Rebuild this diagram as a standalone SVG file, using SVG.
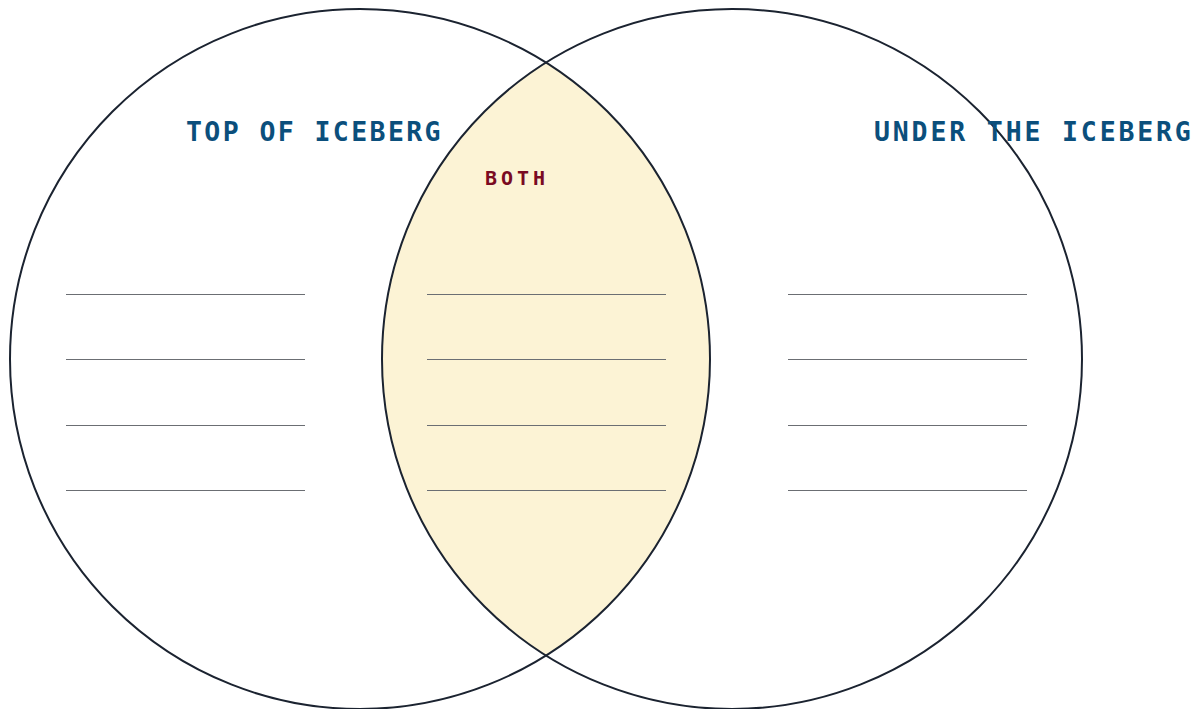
<svg xmlns="http://www.w3.org/2000/svg" width="1197" height="709" viewBox="0 0 1197 709">
<style>
.circ{fill:none;stroke:#1b2330;stroke-width:2}
.ln{stroke:#6b6e73;stroke-width:1}
.title{font-family:"DejaVu Sans Mono","Liberation Mono",monospace;font-weight:bold;font-size:26.5px;letter-spacing:2.4px;fill:#0b4f7c}
.both{font-family:"DejaVu Sans Mono","Liberation Mono",monospace;font-weight:bold;font-size:20px;letter-spacing:4px;fill:#7a0a22}
</style>
<rect width="1197" height="709" fill="#ffffff"/>
<g id="lens">
<path d="M546,62.5 A350,350 0 0 1 546,655.5 A350,350 0 0 1 546,62.5 Z" fill="#fcf3d5"/>
</g>
<g id="left-circle">
<circle class="circ" cx="360" cy="359" r="350"/>
<text class="title" x="186" y="141">TOP OF ICEBERG</text>
<line class="ln" x1="66" y1="294.5" x2="305" y2="294.5"/>
<line class="ln" x1="66" y1="359.5" x2="305" y2="359.5"/>
<line class="ln" x1="66" y1="425.5" x2="305" y2="425.5"/>
<line class="ln" x1="66" y1="490.5" x2="305" y2="490.5"/>
</g>
<g id="right-circle">
<circle class="circ" cx="732" cy="359" r="350"/>
<text class="title" x="874" y="141" style="letter-spacing:2.85px">UNDER THE ICEBERG</text>
<line class="ln" x1="788" y1="294.5" x2="1027" y2="294.5"/>
<line class="ln" x1="788" y1="359.5" x2="1027" y2="359.5"/>
<line class="ln" x1="788" y1="425.5" x2="1027" y2="425.5"/>
<line class="ln" x1="788" y1="490.5" x2="1027" y2="490.5"/>
</g>
<g id="both">
<text class="both" x="485" y="185">BOTH</text>
<line class="ln" x1="427" y1="294.5" x2="666" y2="294.5"/>
<line class="ln" x1="427" y1="359.5" x2="666" y2="359.5"/>
<line class="ln" x1="427" y1="425.5" x2="666" y2="425.5"/>
<line class="ln" x1="427" y1="490.5" x2="666" y2="490.5"/>
</g>
</svg>
